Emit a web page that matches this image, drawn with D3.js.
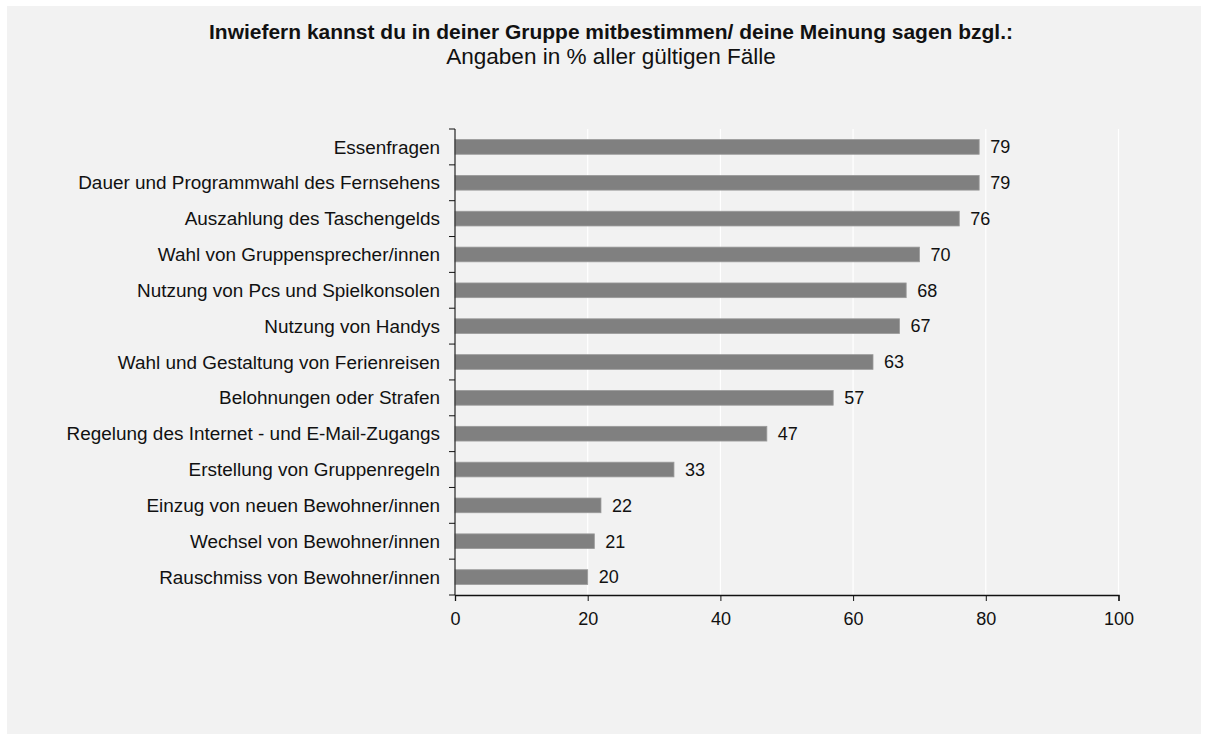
<!DOCTYPE html>
<html><head><meta charset="utf-8">
<script src="https://cdn.jsdelivr.net/npm/d3@7"></script>
<style>
html,body{margin:0;padding:0;background:#fff;}
svg{display:block;}
text{font-family:"Liberation Sans",Arial,sans-serif;fill:#111;}
</style></head>
<body>
<svg id="chart" width="1208" height="740"></svg>
<script>
const titleText = "Inwiefern kannst du in deiner Gruppe mitbestimmen/ deine Meinung sagen bzgl.:";
const subtitleText = "Angaben in % aller gültigen Fälle";
const categories = [
  "Essenfragen",
  "Dauer und Programmwahl des Fernsehens",
  "Auszahlung des Taschengelds",
  "Wahl von Gruppensprecher/innen",
  "Nutzung von Pcs und Spielkonsolen",
  "Nutzung von Handys",
  "Wahl und Gestaltung von Ferienreisen",
  "Belohnungen oder Strafen",
  "Regelung des Internet - und E-Mail-Zugangs",
  "Erstellung von Gruppenregeln",
  "Einzug von neuen Bewohner/innen",
  "Wechsel von Bewohner/innen",
  "Rauschmiss von Bewohner/innen"
];
const values = [79, 79, 76, 70, 68, 67, 63, 57, 47, 33, 22, 21, 20];
const xTicks = [0, 20, 40, 60, 80, 100];

(function(){
const svg = d3.select("#chart");
svg.append("rect").attr("x",7).attr("y",6).attr("width",1194).attr("height",728).attr("fill","#f2f2f2");

const pLeft = 455, pRight = 1118.5, pTop = 129, pBottom = 595;
const x = d3.scaleLinear().domain([0,100]).range([pLeft,pRight]);
const y = d3.scaleBand().domain(categories).range([pTop,pBottom]).padding(0);
const barH = y.bandwidth()*0.41;

function fit(sel, target){
  const node = sel.node();
  const fs = parseFloat(sel.attr("font-size"));
  const w = node.getComputedTextLength();
  sel.attr("font-size", fs*target/w);
}

const t = svg.append("text").attr("x",611).attr("y",39).attr("text-anchor","middle")
  .style("font-family",'"Liberation Sans Narrow","Arial Narrow","Liberation Sans",sans-serif')
  .attr("font-weight","bold").attr("font-size",18).text(titleText);
fit(t, 804);
const st = svg.append("text").attr("x",611).attr("y",64).attr("text-anchor","middle")
  .attr("font-size",17).attr("fill","#222").text(subtitleText);
fit(st, 330);

svg.append("g").selectAll("line").data(xTicks.filter(d=>d>0)).join("line")
  .attr("x1",d=>x(d)).attr("x2",d=>x(d)).attr("y1",pTop).attr("y2",pBottom)
  .attr("stroke","#fff").attr("stroke-width",1.2);

svg.append("g").selectAll("rect").data(categories).join("rect")
  .attr("x",x(0)).attr("y",(d)=>y(d)+(y.bandwidth()-barH)/2)
  .attr("width",(d,i)=>x(values[i])-x(0)).attr("height",barH)
  .attr("fill","#808080").attr("stroke","#9a9a9a").attr("stroke-width",0.8);

svg.append("g").selectAll("text").data(categories).join("text")
  .attr("x",(d,i)=>x(values[i])+11).attr("y",d=>y(d)+y.bandwidth()/2)
  .attr("dy","0.35em").attr("font-size",18).text((d,i)=>values[i]);

const xa = svg.append("g").attr("transform",`translate(0,${pBottom})`)
  .call(d3.axisBottom(x).tickValues(xTicks).tickSize(6).tickPadding(11));
xa.select(".domain").attr("stroke","#111").attr("stroke-width",1.3);
xa.selectAll(".tick line").attr("stroke","#111");
xa.selectAll("text").attr("font-size",18).attr("fill","#111").attr("font-family",null);

const bounds = categories.map(c=>y(c)).concat([pBottom]);
svg.append("line").attr("x1",pLeft).attr("x2",pLeft).attr("y1",pTop).attr("y2",pBottom)
  .attr("stroke","#333").attr("stroke-width",1.3);
svg.append("g").selectAll("line").data(bounds).join("line")
  .attr("x1",pLeft-6).attr("x2",pLeft).attr("y1",d=>d).attr("y2",d=>d)
  .attr("stroke","#111").attr("stroke-width",1);

const cl = svg.append("g").selectAll("text").data(categories).join("text")
  .attr("x",440).attr("y",d=>y(d)+y.bandwidth()/2).attr("dy","0.35em")
  .attr("text-anchor","end").attr("font-size",17).text(d=>d);
const longest = cl.filter(d=>d==="Dauer und Programmwahl des Fernsehens");
const w0 = longest.node().getComputedTextLength();
cl.attr("font-size",17*362/w0);
})();
</script>
</body></html>
